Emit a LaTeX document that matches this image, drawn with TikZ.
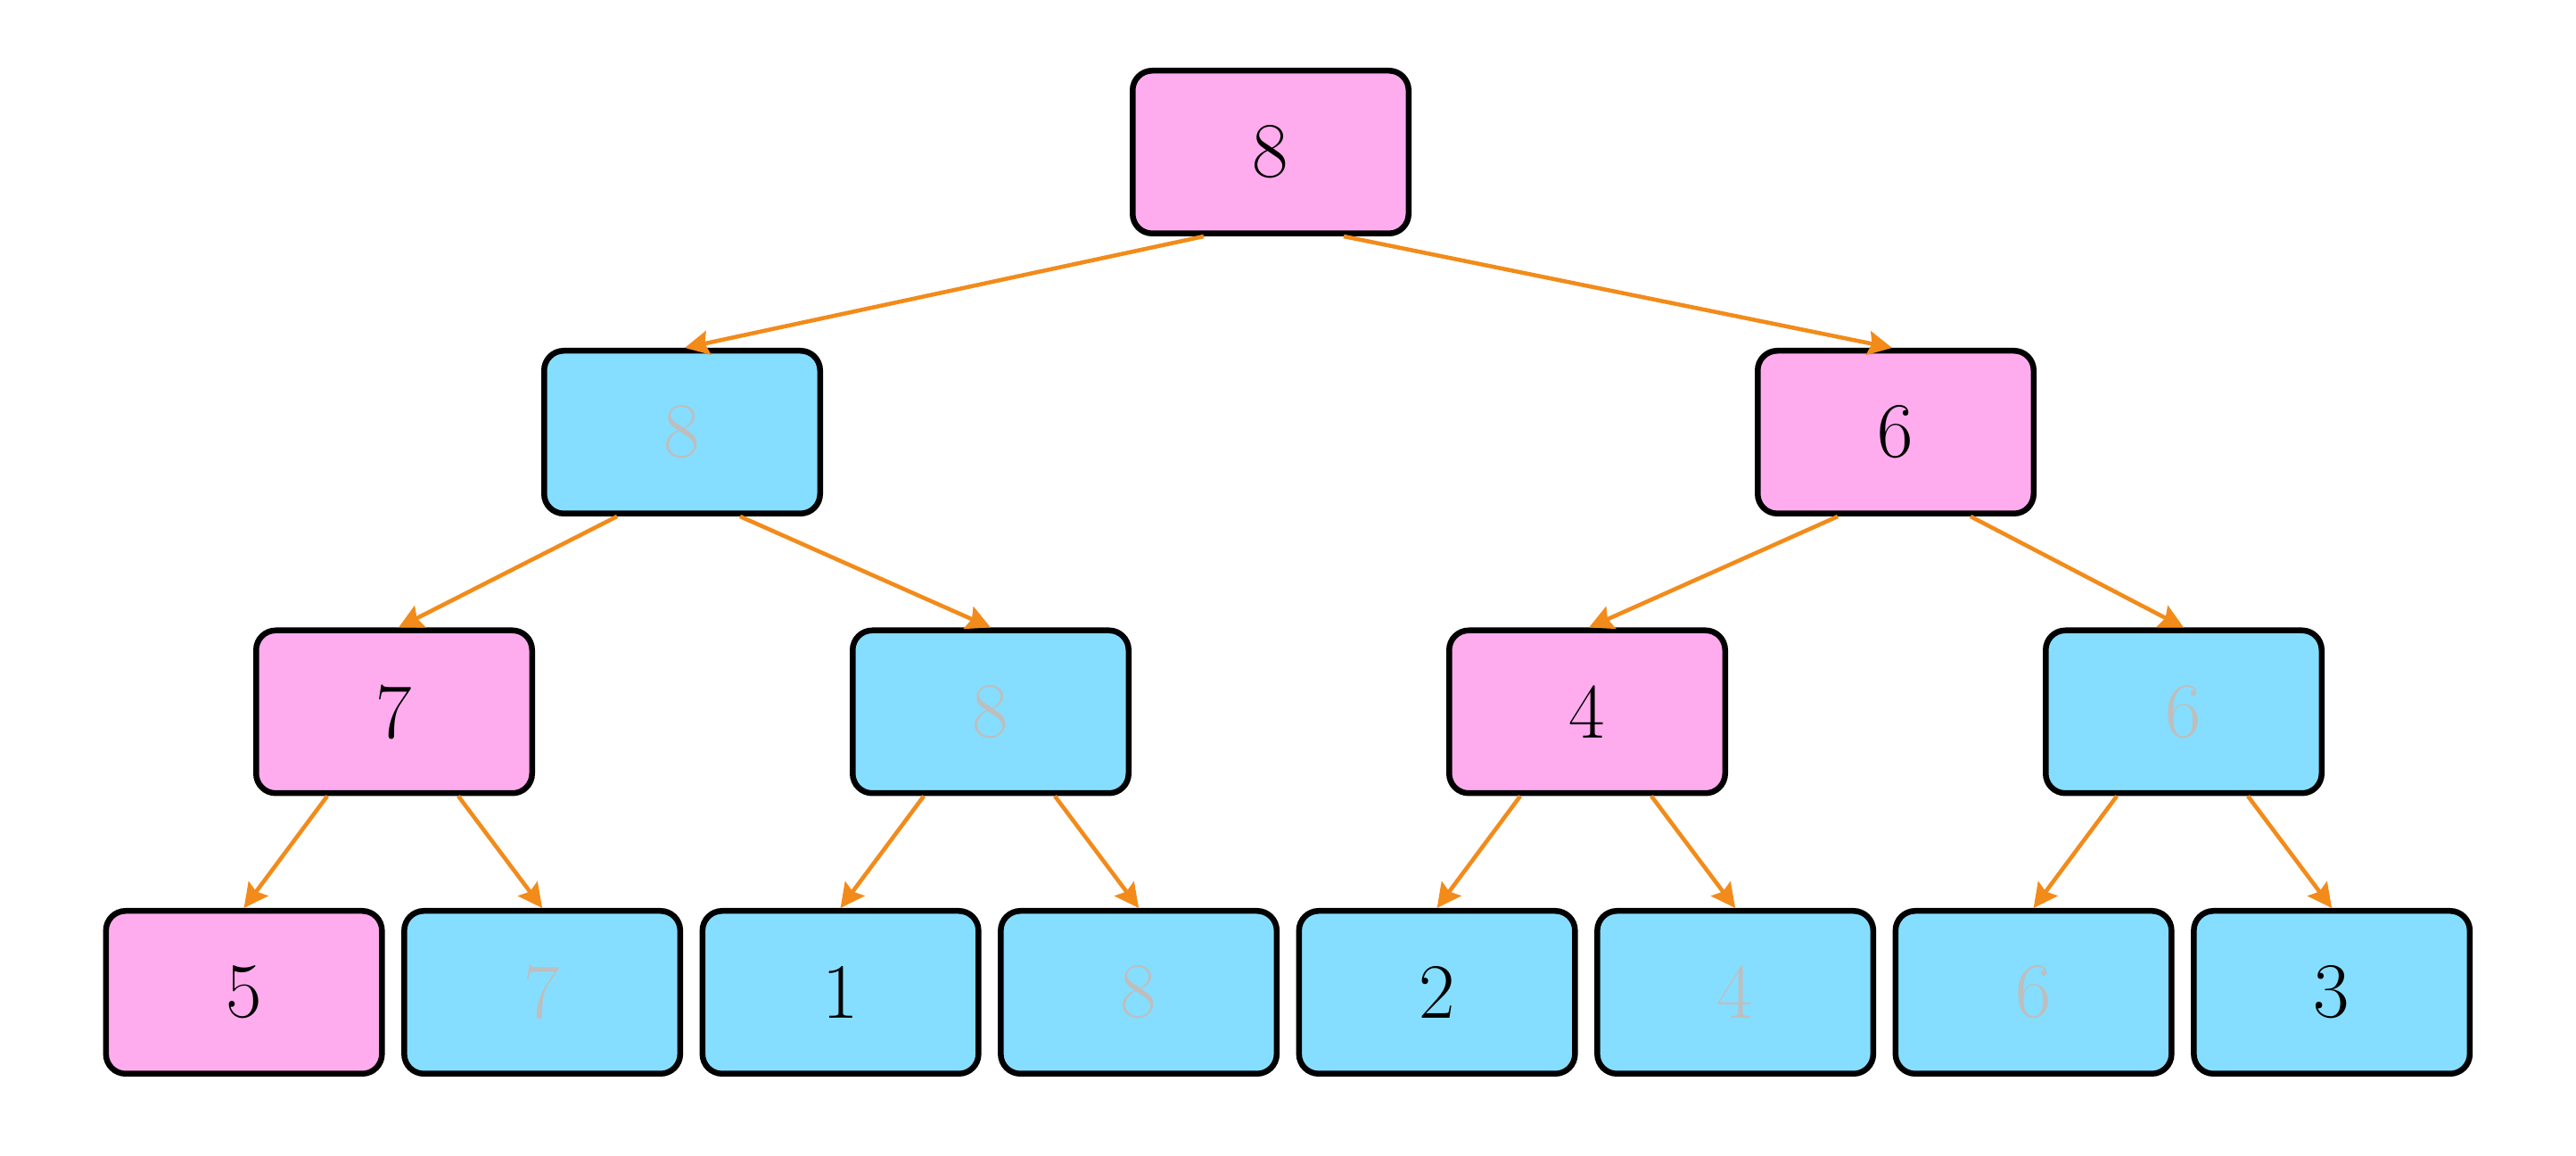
\documentclass[tikz,border=0pt]{standalone}
\usepackage{tikz}
\usetikzlibrary{arrows.meta}
\definecolor{heapPink}{HTML}{FFACEE}
\definecolor{heapBlue}{HTML}{85DEFF}
\definecolor{heapOrange}{HTML}{F28B1A}
\definecolor{heapFaded}{HTML}{BEBEBE}

\begin{document}
\begin{tikzpicture}[
    cell/.style={draw=black, line width=1.85pt, rounded corners=0.22cm,
        minimum width=3.095cm, minimum height=1.825cm, inner sep=0pt,
        font=\fontsize{25}{30}\selectfont},
    hot/.style={cell, fill=heapPink},
    cold/.style={cell, fill=heapBlue},
    faded/.style={text=heapFaded},
    edge/.style={draw=heapOrange, line width=1.3pt,
        -{Stealth[length=0.27cm, width=0.27cm, inset=0.04cm]}}
]
            \useasboundingbox (0,0) rectangle (28.89,12.96);
            % levels, top to bottom
            \node[hot] (root) at (14.25,11.255) {8};
            \node[cold, faded] (l1a) at (7.65,8.115) {8};
            \node[hot] (l1b) at (21.26,8.115) {6};
            \node[hot] (l2a) at (4.42,4.98) {7};
            \node[cold, faded] (l2b) at (11.11,4.98) {8};
            \node[hot] (l2c) at (17.80,4.98) {4};
            \node[cold, faded] (l2d) at (24.49,4.98) {6};
            \node[hot] (lfa) at (2.736,1.835) {5};
            \node[cold, faded] (lfb) at (6.081,1.835) {7};
            \node[cold] (lfc) at (9.426,1.835) {1};
            \node[cold, faded] (lfd) at (12.771,1.835) {8};
            \node[cold] (lfe) at (16.116,1.835) {2};
            \node[cold, faded] (lff) at (19.461,1.835) {4};
            \node[cold, faded] (lfg) at (22.806,1.835) {6};
            \node[cold] (lfh) at (26.151,1.835) {3};
            % edges
            \draw[edge] ([xshift=-0.75cm]root.south) -- ([xshift=0.03cm]l1a.north);
            \draw[edge] ([xshift=0.82cm]root.south) -- ([xshift=-0.04cm]l1b.north);
            \draw[edge] ([xshift=-0.73cm]l1a.south) -- ([xshift=0.05cm]l2a.north);
            \draw[edge] ([xshift=0.65cm]l1a.south) -- (l2b.north);
            \draw[edge] ([xshift=-0.65cm]l1b.south) -- ([xshift=0.02cm]l2c.north);
            \draw[edge] ([xshift=0.84cm]l1b.south) -- (l2d.north);
            \draw[edge] ([xshift=-0.75cm]l2a.south) -- (lfa.north);
            \draw[edge] ([xshift=0.72cm]l2a.south) -- (lfb.north);
            \draw[edge] ([xshift=-0.75cm]l2b.south) -- (lfc.north);
            \draw[edge] ([xshift=0.72cm]l2b.south) -- (lfd.north);
            \draw[edge] ([xshift=-0.75cm]l2c.south) -- (lfe.north);
            \draw[edge] ([xshift=0.72cm]l2c.south) -- (lff.north);
            \draw[edge] ([xshift=-0.75cm]l2d.south) -- (lfg.north);
            \draw[edge] ([xshift=0.72cm]l2d.south) -- (lfh.north);
\end{tikzpicture}
\end{document}
